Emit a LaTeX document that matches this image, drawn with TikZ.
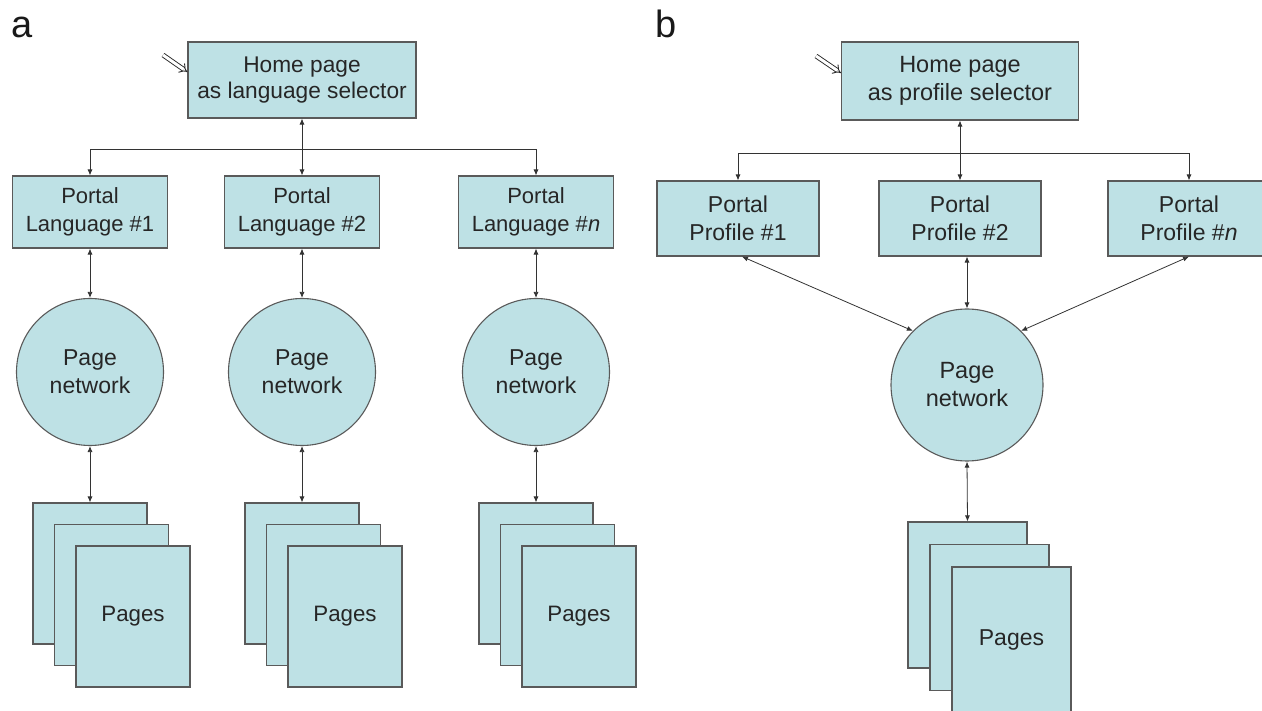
\documentclass[tikz,border=0pt]{standalone}
\usepackage{fontspec}
\setmainfont{Liberation Sans}
\usetikzlibrary{positioning,arrows.meta,calc}
\definecolor{boxfill}{RGB}{190,225,229}
\definecolor{boxline}{RGB}{90,90,90}
\tikzset{
homebox/.style={rectangle, draw=boxline, fill=boxfill, line width=1.1pt, text=black!85,
                minimum width=228pt, minimum height=76pt, inner sep=0pt, align=center,
                font=\fontsize{22.7}{26.5}\selectfont},
portalbox/.style={rectangle, draw=boxline, fill=boxfill, line width=1.1pt, text=black!85,
                minimum width=155pt, minimum height=72pt, inner sep=0pt, align=center,
                font=\fontsize{22}{28}\selectfont},
netnode/.style={circle, draw=boxline, fill=boxfill, line width=1.1pt, text=black!85,
                minimum size=147pt, inner sep=0pt, align=center,
                font=\fontsize{23}{28}\selectfont},
pagebox/.style={rectangle, draw=boxline, fill=boxfill, line width=1.1pt, text=black!85,
                minimum width=114pt, minimum height=141pt, inner sep=0pt,
                font=\fontsize{22.3}{24}\selectfont},
panellabel/.style={font=\fontsize{38}{38}\selectfont, text=black!90},
link/.style={draw=black!80, line width=0.8pt},
entry/.style={draw=black!85, line width=0.9pt, double, double distance=3pt, -{Implies}},
>={Latex[width=5pt,length=6pt]}
}

\begin{document}
\begin{tikzpicture}[x=1pt, y=-1pt]
\useasboundingbox (0,0) rectangle (1262,711);

%Panel labels
\node[panellabel] (labA) at (22,27) {a};
\node[panellabel] (labB) at (666,24) {b};

%(a) one portal per language
\node[homebox] (homeA) at (302,80) {Home page\\as language selector};
\node[portalbox] (portA1) at (90,212) {Portal\\Language \#1};
\node[portalbox] (portA2) at (302,212) {Portal\\Language \#2};
\node[portalbox] (portA3) at (536,212) {Portal\\Language \#\textit{n}};

\foreach \n/\x in {1/90,2/302,3/536} {
  \node[netnode] (netA\n) at (\x,372) {Page\\network};
  \node[pagebox] (backA\n) at (\x,573.5) {};
  \node[pagebox] (midA\n) at (\x+21.5,595) {};
  \node[pagebox] (frontA\n) at (\x+43,616.5) {Pages};
}

\coordinate (inA) at (163,55);
\coordinate (splitA) at (302,149);
\draw[entry] (inA) -- ([yshift=8pt]homeA.west);
\draw[link,<->] (homeA.south) -- (portA2.north);
\draw[link,->] (splitA) -| (portA1.north);
\draw[link,->] (splitA) -| (portA3.north);
\foreach \n in {1,2,3} {
  \draw[link,<->] (portA\n.south) -- (netA\n.north);
  \draw[link,<->] (netA\n.south) -- (backA\n.north);
}

%(b) one portal per profile, shared page network
\node[homebox, minimum width=237pt, minimum height=78pt, font=\fontsize{23.5}{27.5}\selectfont] (homeB) at (960,81) {Home page\\as profile selector};
\node[portalbox, minimum width=162pt, minimum height=75pt, font=\fontsize{23}{28.5}\selectfont] (portB1) at (738,218.5) {Portal\\Profile \#1};
\node[portalbox, minimum width=162pt, minimum height=75pt, font=\fontsize{23}{28.5}\selectfont] (portB2) at (960,218.5) {Portal\\Profile \#2};
\node[portalbox, minimum width=162pt, minimum height=75pt, font=\fontsize{23}{28.5}\selectfont] (portB3) at (1189,218.5) {Portal\\Profile \#\textit{n}};

\node[netnode, minimum size=152pt, font=\fontsize{23.5}{28}\selectfont] (netB) at (967,385) {Page\\network};
\node[pagebox, minimum width=119pt, minimum height=146pt] (backB) at (967.5,595) {};
\node[pagebox, minimum width=119pt, minimum height=146pt] (midB) at (989.5,617.5) {};
\node[pagebox, minimum width=119pt, minimum height=146pt, font=\fontsize{23}{24}\selectfont] (frontB) at (1011.5,640) {Pages};

\coordinate (inB) at (816,56);
\coordinate (splitB) at (960,153);
\draw[entry] (inB) -- ([yshift=8pt]homeB.west);
\draw[link,<->] (homeB.south) -- (portB2.north);
\draw[link,->] (splitB) -| (portB1.north);
\draw[link,->] (splitB) -| (portB3.north);
\draw[link,<->] ([xshift=4pt]portB1.south) -- (netB.135);
\draw[link,<->] (portB3.south) -- (netB.45);
\draw[link,<->] (netB.north |- portB2.south) -- (netB.north);
\draw[link,<->] (netB.south) -- (backB.north);
\end{tikzpicture}
\end{document}
